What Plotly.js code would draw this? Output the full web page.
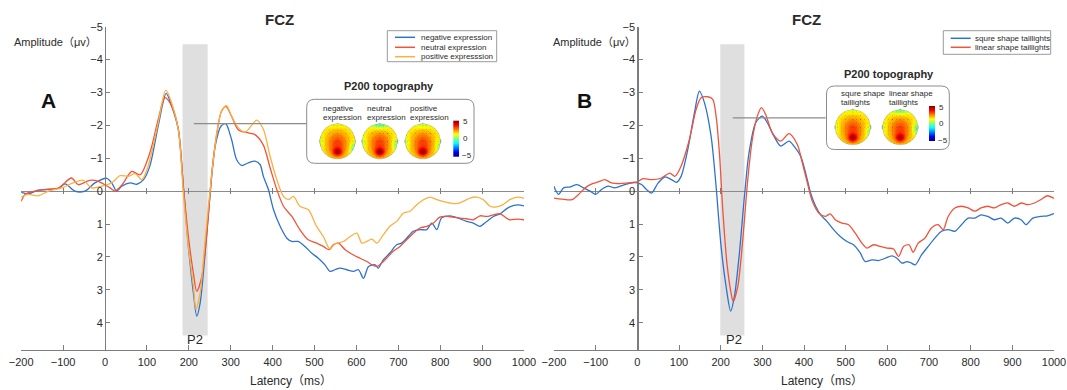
<!DOCTYPE html>
<html><head><meta charset="utf-8">
<script src="https://cdn.plot.ly/plotly-3.0.1.min.js"></script>
<style>html,body{margin:0;padding:0;background:#fff}#chart{width:1067px;height:390px}</style>
</head><body><div id="chart"></div>
<script>
// ---------------- data ----------------
const xTickVals = [-200,-100,0,100,200,300,400,500,600,700,800,900,1000];
const yTickVals = [-5,-4,-3,-2,-1,0,1,2,3,4];
const panelTitles = ['FCZ','FCZ'];
const panelLetters = ['A','B'];
const xTitle = 'Latency\uFF08ms\uFF09';
const yTitle = 'Amplitude\uFF08\u03BCv\uFF09';
const namesA = ['negative expression','neutral expression','positive expresssion'];
const namesB = ['squre shape taillights','linear shape taillights'];
const topoTitle = 'P200 topography';
const topoLabelsA = [['negative','expression'],['neutral','expression'],['positive','expression']];
const topoLabelsB = [['squre shape','taillights'],['linear shape','taillights']];
const colorbarLabels = ['5','0','\u22125'];
const peakLabel = 'P2';

// Panel A: negative expression
const negLatency = [-200,-183,-159,-135,-111,-95,-72,-48,-24,4,16,28,40,60,76,92,107,127,146,159,175,187,199,211,219,227,239,251,263,277,288,302,314,326,342,358,370,378,390,402,418,434,446,461,477,493,509,525,537,549,561,577,593,605,617,629,645,652,664,680,696,708,720,736,752,768,780,792,803,823,843,863,879,895,911,927,943,958,966,985,1000];
const negAmp = [0.04,0.08,-0.03,-0.05,-0.08,-0.22,0,0,-0.25,-0.39,-0.25,0,-0.15,-0.25,-0.21,-0.35,-0.76,-1.98,-2.97,-2.59,-1.88,-0.15,1.68,3.1,3.8,3.41,1.88,0.06,-1.37,-1.98,-2.05,-1.57,-0.96,-0.78,-0.86,-0.91,-0.81,-0.45,-0.05,0.56,1.07,1.43,1.53,1.53,1.68,1.88,2.04,2.24,2.44,2.39,2.34,2.39,2.44,2.39,2.65,2.29,2.24,2.34,2.09,1.88,1.63,1.58,1.43,1.22,1.17,1.17,0.97,1.17,0.82,0.75,0.82,0.92,0.97,1.07,0.92,0.77,0.69,0.54,0.48,0.42,0.45];
// Panel A: neutral expression
const neuLatency = [-200,-191,-167,-143,-111,-80,-64,-36,-16,12,24,40,64,84,107,127,143,159,175,187,199,211,219,231,243,255,267,278,289,302,318,342,358,378,394,410,426,446,465,485,505,521,535,545,557,573,593,609,625,637,649,660,672,688,704,720,736,752,768,784,799,815,831,847,863,879,895,911,927,943,958,966,985,1000];
const neuAmp = [0.31,0.1,0,-0.05,-0.1,-0.4,-0.2,-0.33,-0.3,-0.1,0,-0.18,-0.6,-0.5,-1.16,-2.18,-2.84,-2.59,-1.88,-0.15,1.38,2.5,3.05,2.6,1.28,-0.55,-1.77,-2.43,-2.57,-2.28,-1.87,-1.77,-1.72,-1.4,-0.71,-0.05,0.46,0.77,1.17,1.48,1.58,1.68,1.78,1.63,1.58,1.78,1.94,2.04,2.14,2.24,2.29,2.19,2.04,1.83,1.68,1.48,1.28,1.12,1.07,0.97,0.79,0.77,0.79,0.82,0.84,0.87,0.75,0.77,0.72,0.69,0.82,0.87,0.85,0.87];
// Panel A: positive expression
const posLatency = [-200,-183,-159,-135,-103,-76,-52,-32,-8,16,36,56,72,88,103,127,145,159,175,187,199,211,217,227,239,255,267,278,290,302,318,334,350,362,378,394,410,426,438,450,465,485,505,521,537,549,569,585,601,613,625,637,649,664,680,696,712,728,744,760,776,792,808,823,839,855,871,887,903,919,935,950,966,985,1000];
const posAmp = [0.18,0.1,0.14,0,-0.1,-0.25,-0.33,-0.1,-0.15,-0.25,-0.47,-0.45,-0.53,-0.35,-0.76,-2.08,-3.07,-2.69,-1.88,0.06,1.68,2.9,3.6,3.1,1.48,-0.55,-1.77,-2.43,-2.6,-2.28,-1.93,-1.79,-2.0,-2.16,-1.88,-1.06,-0.35,0.16,0.26,0.16,0.46,0.56,1.07,1.38,1.76,1.6,1.53,1.38,1.28,1.58,1.53,1.46,1.58,1.33,1.07,0.92,0.67,0.61,0.41,0.26,0.18,0.26,0.32,0.36,0.38,0.31,0.21,0.18,0.26,0.46,0.48,0.41,0.26,0.18,0.22];

// Panel B: squre shape taillights
const squreLatency = [-200,-197,-189,-177,-161,-145,-129,-113,-100,-86,-70,-54,-30,-6,10,22,34,50,66,82,94,105,121,137,149,161,177,189,201,213,224,233,245,257,268,284,300,312,328,344,364,376,392,404,416,428,440,455,471,487,503,519,535,547,563,579,595,611,623,635,647,655,667,682,698,714,730,746,762,778,794,810,825,841,857,873,889,905,921,933,949,968,984,1000];
const squreAmp = [-0.15,-0.05,0.1,-0.1,-0.13,-0.2,-0.1,0,0.1,-0.05,-0.15,-0.1,-0.2,-0.27,-0.2,-0.05,0.06,-0.25,-0.43,-0.35,-0.27,-0.45,-1.26,-2.38,-3.04,-2.69,-1.67,-0.15,1.68,2.9,3.65,3.2,1.88,0.16,-1.16,-2.08,-2.28,-2.08,-1.67,-1.37,-1.52,-1.37,-1.06,-0.55,0.06,0.46,0.72,0.92,1.17,1.38,1.53,1.63,1.88,2.14,2.09,2.11,2.04,1.97,2.04,2.19,2.14,2.17,2.24,1.94,1.68,1.43,1.22,1.17,1.22,1.02,0.82,0.82,0.72,0.77,0.87,0.82,0.97,0.82,0.87,1.02,0.82,0.77,0.75,0.68];
// Panel B: linear shape taillights
const linearLatency = [-200,-181,-157,-141,-125,-109,-94,-78,-62,-42,-22,-2,14,34,58,78,90,105,125,141,153,169,181,189,197,205,215,225,230,241,253,265,276,288,298,308,324,344,364,384,396,408,420,436,451,463,475,491,507,523,539,551,567,583,599,615,627,639,652,662,674,690,706,722,734,746,762,778,794,810,825,841,857,873,889,905,921,937,953,968,984,1000];
const linearAmp = [0.21,0.24,0.26,0.1,-0.1,-0.22,-0.28,-0.35,-0.25,-0.23,-0.25,-0.27,-0.38,-0.35,-0.4,-0.55,-0.45,-0.76,-1.57,-2.48,-2.84,-2.87,-2.79,-2.28,-1.16,0.56,2.19,3.1,3.35,2.9,1.48,-0.35,-1.57,-2.28,-2.54,-2.33,-1.77,-1.52,-1.75,-1.42,-0.86,-0.25,0.31,0.67,0.77,0.69,0.87,0.97,1.02,1.28,1.58,1.73,1.63,1.68,1.73,1.76,1.99,1.68,1.63,1.86,1.58,1.43,1.12,1.02,1.17,0.77,0.51,0.46,0.51,0.61,0.51,0.46,0.51,0.41,0.36,0.46,0.36,0.41,0.36,0.26,0.14,0.22];

// P2 window (ms)
const p2WindowA = [185, 245];
const p2WindowB = [199, 257];

// ---------------- styling ----------------
const W = 1067, H = 390;
const fx = p => p / W, fy = p => 1 - p / H;
const FONT = 'Arial, "Liberation Sans", "Noto Sans CJK SC", sans-serif';
const TXT = '#2a2a2a';
const AX = '#7d7d7d';
const BLUE = '#2f72cc', RED = '#f0533a', YEL = '#fbb040';

function line(x, y, name, color, xa, ya) {
  return {type:'scatter', mode:'lines', x:x, y:y, name:name, xaxis:xa, yaxis:ya,
    line:{color:color, width:1.3, shape:'spline', smoothing:0.8}, showlegend:false, hoverinfo:'skip'};
}
const traces = [
  line(negLatency, negAmp, namesA[0], BLUE, 'x', 'y'),
  line(neuLatency, neuAmp, namesA[1], RED, 'x', 'y'),
  line(posLatency, posAmp, namesA[2], YEL, 'x3', 'y'),
  line(squreLatency, squreAmp, namesB[0], BLUE, 'x2', 'y2'),
  line(linearLatency, linearAmp, namesB[1], RED, 'x4', 'y2')
];

// geometry (px)
const plotTop = 26.7, plotBottom = 350;
const yRange = [4.83, -5];
const A = {x0:21.2, x1:524, axisX:105};
const B = {x0:554, x1:1054, axisX:637.3};
const zeroPx = plotTop + 5 * (plotBottom - plotTop) / (yRange[0] - yRange[1]);

function xAxisMain(P) {
  return {domain:[fx(P.x0), fx(P.x1)], range:[-200,1000], tickvals:xTickVals, ticks:'inside', ticklen:5,
    tickcolor:AX, tickwidth:1, showline:true, linecolor:AX, linewidth:1.2, showgrid:false, zeroline:false,
    ticklabeloverflow:'allow', ticklabelstandoff:2,
    tickfont:{family:FONT, size:11, color:TXT}, fixedrange:true};
}
function xAxisZero(P, over) {
  return {domain:[fx(P.x0), fx(P.x1)], range:[-200,1000], overlaying:over, anchor:'free', position:fy(zeroPx + 3),
    tickvals:xTickVals, ticks:'inside', ticklen:6, tickcolor:AX, tickwidth:1, showline:false,
    showticklabels:false, showgrid:false, zeroline:false, fixedrange:true};
}
function yAxis(P) {
  return {domain:[fy(plotBottom), fy(plotTop)], range:yRange, anchor:'free', position:fx(P.axisX),
    tickvals:yTickVals, ticks:'inside', ticklen:4, tickcolor:AX, showline:true, linecolor:AX, linewidth:1.2,
    showgrid:false, zeroline:true, zerolinecolor:'#8a8a8a', zerolinewidth:1.3,
    tickfont:{family:FONT, size:11, color:TXT}, fixedrange:true};
}

function rrPath(x0, y0, x1, y1, r) {
  const X = fx, Y = fy;
  return `M${X(x0+r)},${Y(y0)} L${X(x1-r)},${Y(y0)} Q${X(x1)},${Y(y0)} ${X(x1)},${Y(y0+r)} ` +
         `L${X(x1)},${Y(y1-r)} Q${X(x1)},${Y(y1)} ${X(x1-r)},${Y(y1)} L${X(x0+r)},${Y(y1)} ` +
         `Q${X(x0)},${Y(y1)} ${X(x0)},${Y(y1-r)} L${X(x0)},${Y(y0+r)} Q${X(x0)},${Y(y0)} ${X(x0+r)},${Y(y0)} Z`;
}

const shapes = [
  {type:'rect', xref:'x', yref:'y', x0:p2WindowA[0], x1:p2WindowA[1], y0:-4.47, y1:4.39, fillcolor:'#dfdfdf', line:{width:0}, layer:'below'},
  {type:'rect', xref:'x2', yref:'y2', x0:p2WindowB[0], x1:p2WindowB[1], y0:-4.47, y1:4.39, fillcolor:'#dfdfdf', line:{width:0}, layer:'below'},
  {type:'line', xref:'x', yref:'y', x0:212, x1:481, y0:-2.05, y1:-2.05, line:{color:'#8c8c8c', width:1.3}},
  {type:'line', xref:'x2', yref:'y2', x0:229, x1:452, y0:-2.23, y1:-2.23, line:{color:'#8c8c8c', width:1.3}},
  {type:'path', xref:'paper', yref:'paper', path:rrPath(306.7, 99.3, 474, 163.3, 8), line:{color:'#8c8c8c', width:1}, fillcolor:'rgba(0,0,0,0)'},
  {type:'path', xref:'paper', yref:'paper', path:rrPath(826.5, 86, 949.3, 149.5, 8), line:{color:'#8c8c8c', width:1}, fillcolor:'rgba(0,0,0,0)'},
  {type:'rect', xref:'paper', yref:'paper', x0:fx(387.3), x1:fx(496.7), y0:fy(30.7), y1:fy(61.7), line:{color:'#9a9a9a', width:1}},
  {type:'rect', xref:'paper', yref:'paper', x0:fx(943.3), x1:fx(1050.7), y0:fy(30.7), y1:fy(54.3), line:{color:'#9a9a9a', width:1}}
];
const legA = [[BLUE,37.3],[RED,47.3],[YEL,56.7]];
legA.forEach(([c,y]) => shapes.push({type:'line', xref:'paper', yref:'paper', x0:fx(395), x1:fx(415), y0:fy(y), y1:fy(y), line:{color:c, width:1.5}}));
const legB = [[BLUE,38.3],[RED,47.3]];
legB.forEach(([c,y]) => shapes.push({type:'line', xref:'paper', yref:'paper', x0:fx(950.7), x1:fx(970.7), y0:fy(y), y1:fy(y), line:{color:c, width:1.5}}));

function ann(text, x, y, size, opts) {
  return Object.assign({text:text, xref:'paper', yref:'paper', x:fx(x), y:fy(y), showarrow:false,
    xanchor:'center', yanchor:'middle', font:{family:FONT, size:size, color:TXT}}, opts || {});
}
const annotations = [
  ann('<b>'+panelTitles[0]+'</b>', 279, 19, 15),
  ann('<b>'+panelTitles[1]+'</b>', 806, 19, 15),
  ann('<b>'+panelLetters[0]+'</b>', 48, 101, 21, {font:{family:FONT, size:21, color:'#111'}}),
  ann('<b>'+panelLetters[1]+'</b>', 584, 101, 21, {font:{family:FONT, size:21, color:'#111'}}),
  ann(yTitle, 12, 42, 11, {xanchor:'left'}),
  ann(yTitle, 551, 42, 11, {xanchor:'left'}),
  ann(xTitle, 291, 381, 12),
  ann(xTitle, 822, 381, 12),
  {text:peakLabel, xref:'x', yref:'y', x:215, y:4.51, showarrow:false, font:{family:FONT, size:13, color:TXT}},
  {text:peakLabel, xref:'x2', yref:'y2', x:231, y:4.51, showarrow:false, font:{family:FONT, size:13, color:TXT}},
  ann('<b>'+topoTitle+'</b>', 389, 86, 11),
  ann('<b>'+topoTitle+'</b>', 888.5, 74, 11)
];
namesA.forEach((n,i) => annotations.push(ann(n, 419, legA[i][1], 8, {xanchor:'left'})));
namesB.forEach((n,i) => annotations.push(ann(n, 973.3, legB[i][1], 8, {xanchor:'left'})));
const topoLabelXA = [321, 365, 408.3];
topoLabelsA.forEach((l,i) => { annotations.push(ann(l[0], topoLabelXA[i], 108.3, 8, {xanchor:'left'})); annotations.push(ann(l[1], topoLabelXA[i], 117.7, 8, {xanchor:'left'})); });
const topoLabelXB = [839, 886.7];
topoLabelsB.forEach((l,i) => { annotations.push(ann(l[0], topoLabelXB[i], 93.3, 8, {xanchor:'left'})); annotations.push(ann(l[1], topoLabelXB[i], 102.8, 8, {xanchor:'left'})); });
const cbA = {x0:453.3, x1:459, y0:120.7, y1:156.7};
const cbB = {x0:929, x1:935, y0:106, y1:141};
[cbA, cbB].forEach(cb => {
  const ys = [cb.y0+1, (cb.y0+cb.y1)/2, cb.y1-1];
  colorbarLabels.forEach((t,i) => annotations.push(ann(t, cb.x1 + (i===2?1:2), ys[i], 8, {xanchor:'left'})));
});

// ---------------- topography images ----------------
function jet(t) {
  t = Math.max(0, Math.min(1, t));
  const c = v => Math.max(0, Math.min(1, v));
  return [c(1.5 - Math.abs(4*t - 3)), c(1.5 - Math.abs(4*t - 2)), c(1.5 - Math.abs(4*t - 1))];
}
function headField(u, v, p) {
  let val = 1.3 + 1.85*Math.exp(-(u*u/0.38 + (v-0.15)*(v-0.15)/0.55)) + p.core*Math.exp(-(u*u/0.07 + (v-0.62)*(v-0.62)/0.05));
  val -= p.gr*Math.exp(-((u-0.92)*(u-0.92)/0.04 + (v-p.grv)*(v-p.grv)/0.12));
  val -= p.gt*Math.exp(-(u*u/0.35 + (v+1)*(v+1)/0.07));
  val -= p.gl*Math.exp(-((u+0.95)*(u+0.95)/0.03 + (v-0.1)*(v-0.1)/0.15));
  return val;
}
function headImage(p) {
  const N = 120, c = N/2, R = 52.5;
  const cv = document.createElement('canvas'); cv.width = N; cv.height = N;
  const ctx = cv.getContext('2d');
  ctx.fillStyle = '#c8c8c8';
  ctx.beginPath(); ctx.ellipse(c - R, c, 3.5, 7, 0, 0, 2*Math.PI); ctx.fill();
  ctx.beginPath(); ctx.ellipse(c + R, c, 3.5, 7, 0, 0, 2*Math.PI); ctx.fill();
  ctx.beginPath(); ctx.moveTo(c-5, c-R+2); ctx.lineTo(c, c-R-4); ctx.lineTo(c+5, c-R+2); ctx.fill();
  const img = ctx.getImageData(0, 0, N, N);
  for (let j = 0; j < N; j++) for (let i = 0; i < N; i++) {
    const u = (i + 0.5 - c)/R, v = (j + 0.5 - c)/R;
    if (u*u + v*v > 1) continue;
    const val = headField(u, v, p);
    const col = jet((val + 5)/10);
    let k = 1;
    const f = (val/0.6) - Math.floor(val/0.6);
    if (f < 0.06) k = 0.82;
    const gx = Math.round(u/0.22), gy = Math.round(v/0.22);
    if (Math.abs(u - gx*0.22) < 0.014 && Math.abs(v - gy*0.22) < 0.014 && gx*gx+gy*gy < 18) k = 0.55;
    const o = 4*(j*N + i);
    img.data[o] = Math.round(255*col[0]*k); img.data[o+1] = Math.round(255*col[1]*k); img.data[o+2] = Math.round(255*col[2]*k); img.data[o+3] = 255;
  }
  ctx.putImageData(img, 0, 0);
  ctx.strokeStyle = 'rgba(110,110,110,0.7)'; ctx.lineWidth = 1.2;
  ctx.beginPath(); ctx.arc(c, c, R, 0, 2*Math.PI); ctx.stroke();
  return cv.toDataURL();
}
function colorbarImage() {
  const cv = document.createElement('canvas'); cv.width = 8; cv.height = 100;
  const ctx = cv.getContext('2d');
  for (let j = 0; j < 100; j++) {
    const col = jet(1 - (j + 0.5)/100);
    ctx.fillStyle = `rgb(${Math.round(col[0]*255)},${Math.round(col[1]*255)},${Math.round(col[2]*255)})`;
    ctx.fillRect(0, j, 8, 1);
  }
  return cv.toDataURL();
}
const headParams = {
  negA: {core:2.2, gr:1.6, grv:0.45, gt:0.4, gl:0.6},
  neuA: {core:2.4, gr:1.2, grv:0.2, gt:1.9, gl:0.8},
  posA: {core:2.4, gr:1.0, grv:0.3, gt:0.8, gl:0.7},
  squB: {core:2.3, gr:1.0, grv:0.3, gt:0.6, gl:0.5},
  linB: {core:2.1, gr:1.5, grv:0.1, gt:1.6, gl:0.6}
};
const heads = [
  ['negA', 337.5, 141.3], ['neuA', 379.8, 141.3], ['posA', 422.8, 141.3],
  ['squB', 852.8, 127.2], ['linB', 900.2, 127.2]
];
const images = heads.map(([k, cx, cy]) => ({source:headImage(headParams[k]), xref:'paper', yref:'paper',
  x:fx(cx-20), y:fy(cy-20), sizex:40/W, sizey:40/H, xanchor:'left', yanchor:'top', sizing:'stretch', layer:'above'}));
const cbSrc = colorbarImage();
[cbA, cbB].forEach(cb => images.push({source:cbSrc, xref:'paper', yref:'paper', x:fx(cb.x0), y:fy(cb.y0),
  sizex:(cb.x1-cb.x0)/W, sizey:(cb.y1-cb.y0)/H, xanchor:'left', yanchor:'top', sizing:'stretch', layer:'above'}));

const layout = {
  width:W, height:H, margin:{l:0, r:0, t:0, b:0}, paper_bgcolor:'#fff', plot_bgcolor:'rgba(0,0,0,0)',
  showlegend:false, hovermode:false,
  xaxis: Object.assign(xAxisMain(A), {anchor:'y'}),
  yaxis: yAxis(A),
  xaxis2: Object.assign(xAxisMain(B), {anchor:'y2'}),
  yaxis2: yAxis(B),
  xaxis3: xAxisZero(A, 'x'),
  xaxis4: xAxisZero(B, 'x2'),
  shapes:shapes, annotations:annotations, images:images
};
Plotly.newPlot('chart', traces, layout, {displayModeBar:false, staticPlot:true});
</script>
</body></html>
